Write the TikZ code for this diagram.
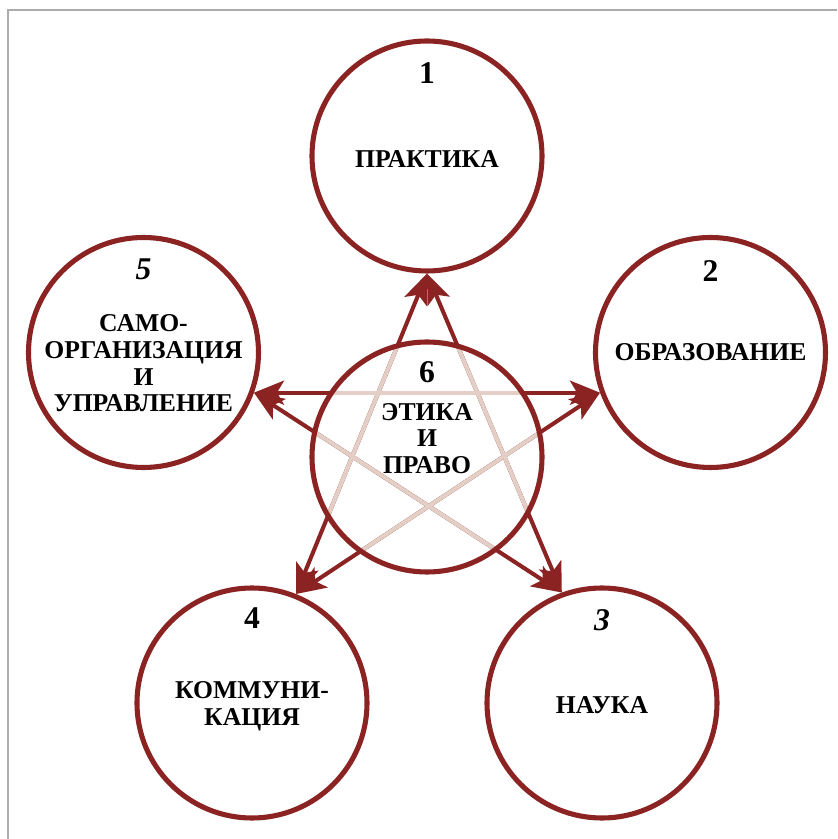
\documentclass[tikz,border=0pt]{standalone}
\usepackage{fontspec}
\setmainfont{Liberation Serif}
\usetikzlibrary{positioning}
\usetikzlibrary{arrows.meta}
\definecolor{wine}{HTML}{8B2323}
\definecolor{pale}{HTML}{E3CFC5}
\definecolor{rim}{HTML}{ABABAB}

\begin{document}
\begin{tikzpicture}[>={Stealth[length=0.6cm,width=0.48cm,inset=0.14cm]},
	ring/.style={circle, draw=wine, line width=2.9pt, minimum size=4.6cm, inner sep=0pt},
	num/.style={font=\fontsize{18}{18}\selectfont\bfseries},
	lbl/.style={font=\fontsize{14.6}{15.2}\selectfont\bfseries, align=center},
	ray/.style={<->, draw=wine, line width=2.3pt},
	ghost/.style={draw=pale, line width=2.3pt}]

		\useasboundingbox (-8.54,-7.64) rectangle (8.20,9.14);
		% frame
		\draw [rim, line width=0.6pt] (-8.38,-7.64) |- (8.20,8.94);

		% outer circles
		\coordinate (o) at (0,0);
		\node (c1) [ring] at (0,6.02) {};
		\node (c2) [ring] at (5.67,2.09) {};
		\node (c3) [ring] at (3.5,-4.92) {};
		\node (c4) [ring] at (-3.5,-4.92) {};
		\node (c5) [ring] at (-5.67,2.09) {};

		% the star
		\draw [ray] (c1.270) -- (c4.68);
		\draw [ray] (c1.270) -- (c3.110);
		\draw [ray] (c5.340) -- (c2.200);
		\draw [ray] (c5.340) -- (c3.110);
		\draw [ray] (c2.200) -- (c4.68);

		% pale part inside the middle circle
		\begin{scope}
			\clip (o) circle (2.3cm);
			\draw [ghost] (c1.270) -- (c4.68);
			\draw [ghost] (c1.270) -- (c3.110);
			\draw [ghost] (c5.340) -- (c2.200);
			\draw [ghost] (c5.340) -- (c3.110);
			\draw [ghost] (c2.200) -- (c4.68);
		\end{scope}

		% middle circle
		\node (c6) [ring] at (o) {};

		% numbers
		\node (n1) [num] at ([yshift=1.66cm]c1) {1};
		\node (n2) [num] at ([yshift=1.62cm]c2) {2};
		\node (n3) [num] at ([yshift=1.66cm]c3) {\itshape 3};
		\node (n4) [num] at ([yshift=1.70cm]c4) {4};
		\node (n5) [num] at ([yshift=1.66cm]c5) {\itshape 5};
		\node (n6) [num] at ([yshift=1.70cm]c6) {6};

		% labels
		\node (t1) [lbl] at ([yshift=-0.06cm]c1) {ПРАКТИКА};
		\node (t2) [lbl] at (c2) {ОБРАЗОВАНИЕ};
		\node (t3) [lbl] at ([yshift=-0.04cm]c3) {НАУКА};
		\node (t4) [lbl] at ([yshift=-0.06cm]c4) {КОММУНИ-\\КАЦИЯ};
		\node (t5) [lbl] at ([yshift=-0.22cm]c5) {САМО-\\ОРГАНИЗАЦИЯ\\И\\УПРАВЛЕНИЕ};
		\node (t6) [lbl] at ([yshift=0.37cm]c6) {ЭТИКА\\И\\ПРАВО};
	\end{tikzpicture}
\end{document}
